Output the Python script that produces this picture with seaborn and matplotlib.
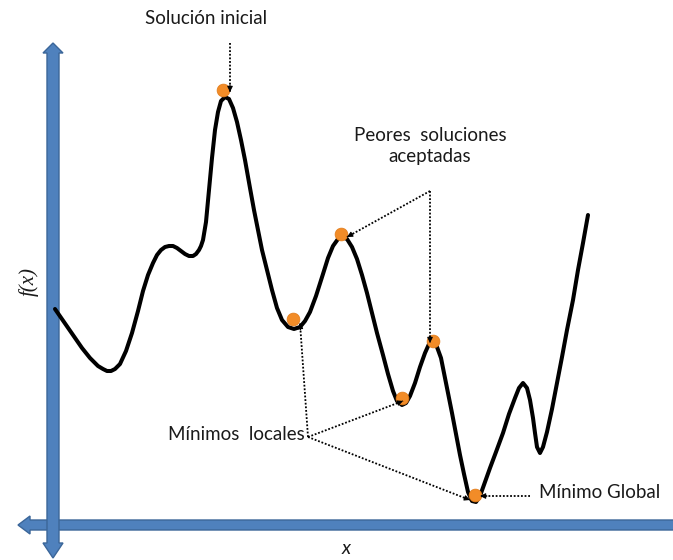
import matplotlib
matplotlib.use("Agg")
import matplotlib.pyplot as plt
from matplotlib.patches import Polygon
import seaborn as sns
import pandas as pd

# ---- data (pixel-like units, y grows downward) ----
curve_x = [55, 64, 73, 82, 90, 98, 103, 107, 111, 115, 120, 126, 132, 138, 143, 148, 153,
           157, 161, 165, 169, 173, 177, 181, 185, 189, 193, 196, 199, 201, 203, 206, 209,
           212, 215, 218, 221, 225, 229, 233, 237, 241, 245, 250, 254, 258, 262, 267, 272,
           277, 282, 288, 294, 300, 305, 310, 316, 323, 328, 333, 338, 342, 347, 352, 357,
           362, 367, 372, 377, 383, 388, 393, 397, 402, 406, 410, 415, 420, 425, 429, 433,
           437, 441, 444, 448, 452, 456, 460, 464, 468, 472, 476, 480, 485, 490, 496, 503,
           509, 515, 519, 523, 527, 530, 533, 535, 537, 540, 543, 547, 552, 557, 562, 567,
           573, 578, 583, 588]
curve_y = [309, 322, 335, 348, 358, 366, 369, 371, 371, 369, 364, 351, 333, 311, 291, 275,
           263, 255, 250, 247, 246, 246, 248, 251, 254, 256, 256, 254, 250, 246, 240, 222,
           190, 158, 130, 112, 101, 97, 99, 108, 122, 140, 160, 188, 210, 230, 250, 270, 290,
           308, 320, 327, 329, 327, 321, 312, 296, 274, 258, 246, 239, 237, 239, 247, 259,
           275, 293, 313, 333, 355, 374, 391, 401, 405, 403, 396, 383, 367, 353, 344, 342,
           347, 358, 373, 393, 413, 434, 455, 474, 492, 501, 502, 496, 482, 468, 452, 433,
           414, 398, 388, 383, 388, 400, 418, 433, 447, 453, 447, 432, 409, 383, 357, 330,
           300, 270, 243, 215]

dot_x = [223, 341, 293, 402, 433, 475]
dot_y = [90, 234, 319, 398, 341, 495]

labels = ["Solución inicial", "Peores  soluciones\naceptadas", "Mínimos  locales",
          "Mínimo Global"]

curve = pd.DataFrame({"x": curve_x, "y": curve_y})
dots = pd.DataFrame({"x": dot_x, "y": dot_y})

sns.set_theme(style="white")
plt.rcParams["font.family"] = ["Lato", "DejaVu Sans"]

fig = plt.figure(figsize=(6.73, 5.60), dpi=100)
ax = fig.add_axes([0, 0, 1, 1])

blue = "#4F81BD"
edge = "#3B6699"
# horizontal axis arrow (left head only, runs off the right edge)
hpoly = [(18, 525), (30, 516), (30, 520), (690, 520), (690, 530), (30, 530), (30, 534)]
ax.add_patch(Polygon(hpoly, closed=True, fc=blue, ec=edge, lw=1, zorder=1))
# vertical axis double arrow
vpoly = [(53, 43), (63, 53), (59, 53), (59, 543), (63, 543), (53, 558), (43, 543),
         (47, 543), (47, 53), (43, 53)]
ax.add_patch(Polygon(vpoly, closed=True, fc=blue, ec=edge, lw=1, zorder=2))

sns.lineplot(data=curve, x="x", y="y", sort=False, color="black", lw=2.9, ax=ax,
             zorder=3)
sns.scatterplot(data=dots, x="x", y="y", s=85, color="#F28C28", edgecolor="#E07A18",
                linewidth=0.5, ax=ax, zorder=4)
ax.set_xlabel("")
ax.set_ylabel("")
ax.set_xlim(0, 673)
ax.set_ylim(560, 0)
ax.axis("off")


def dotted(p0, p1, head=True):
    ax.plot([p0[0], p1[0]], [p0[1], p1[1]], ls=(0, (1, 1)), lw=1.3, color="black",
            zorder=5)
    if head:
        dx, dy = p1[0] - p0[0], p1[1] - p0[1]
        n = (dx ** 2 + dy ** 2) ** 0.5
        start = (p1[0] - dx / n * 7, p1[1] - dy / n * 7)
        ax.annotate("", xy=p1, xytext=start,
                    arrowprops=dict(arrowstyle="-|>", color="black", lw=0.8,
                                    mutation_scale=8, shrinkA=0, shrinkB=0),
                    zorder=6)


dotted((230, 43), (230, 92))
dotted((430, 191), (347, 237))
dotted((430, 191), (430, 343))
dotted((308, 437), (300, 323))
dotted((308, 437), (403, 401))
dotted((308, 437), (470, 500))
dotted((530, 496), (480, 496))

fs = 13.5
tc = "#1a1a1a"
ax.text(206, 18, labels[0], ha="center", va="center", fontsize=fs, color=tc)
ax.text(430, 146, labels[1], ha="center", va="center", fontsize=fs, color=tc,
        linespacing=1.25)
ax.text(305, 434, labels[2], ha="right", va="center", fontsize=fs, color=tc)
ax.text(539, 493, labels[3], ha="left", va="center", fontsize=fs, color=tc)

ax.text(29, 281, "f(x)", rotation=90, ha="center", va="center", fontsize=15,
        fontstyle="italic", family=["Liberation Serif", "DejaVu Serif"], color=tc)
ax.text(346, 549, "x", ha="center", va="center", fontsize=14, fontstyle="italic",
        color=tc)

fig.savefig("out.png", dpi=100)
